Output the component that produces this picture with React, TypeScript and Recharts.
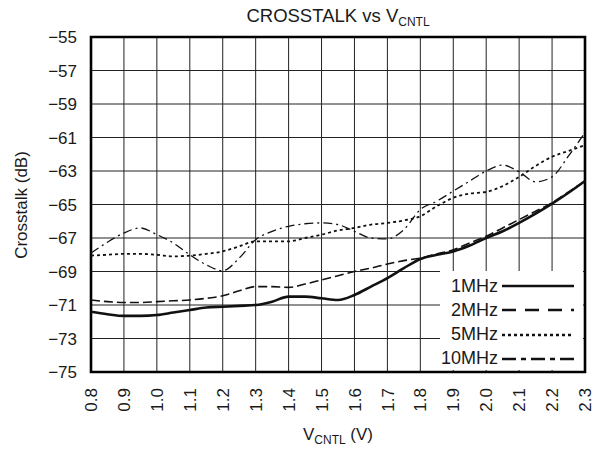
import { CartesianGrid, Line, LineChart, ReferenceArea, XAxis, YAxis } from "recharts";

// V_CNTL sample points (V)
const vcntl = [
  0.8, 0.85, 0.9, 0.95, 1.0, 1.05, 1.1, 1.15, 1.2, 1.25, 1.3, 1.35, 1.4, 1.45, 1.5, 1.55,
  1.6, 1.65, 1.7, 1.75, 1.8, 1.85, 1.9, 1.95, 2.0, 2.05, 2.1, 2.15, 2.2, 2.25, 2.3,
];

// crosstalk readings (dB)
const mhz1 = [
  -71.4, -71.55, -71.65, -71.65, -71.6, -71.45, -71.3, -71.15, -71.1, -71.05, -71.0, -70.8,
  -70.5, -70.5, -70.6, -70.7, -70.4, -69.9, -69.4, -68.8, -68.25, -68.0, -67.8, -67.45, -67.0,
  -66.6, -66.1, -65.55, -64.95, -64.3, -63.6,
];
const mhz2 = [
  -70.7, -70.8, -70.85, -70.85, -70.8, -70.75, -70.7, -70.6, -70.45, -70.15, -69.9, -69.9,
  -69.95, -69.75, -69.5, -69.25, -69.0, -68.8, -68.55, -68.35, -68.2, -67.95, -67.7, -67.3,
  -66.9, -66.4, -65.9, -65.4, -64.9, -64.25, -63.6,
];
const mhz5 = [
  -68.05, -68.0, -67.95, -67.95, -68.0, -68.1, -68.05, -67.95, -67.8, -67.5, -67.2, -67.2,
  -67.2, -67.0, -66.8, -66.55, -66.4, -66.2, -66.1, -65.95, -65.7, -65.1, -64.6, -64.35,
  -64.25, -63.9, -63.35, -62.7, -62.15, -61.8, -61.45,
];
const mhz10 = [
  -67.9, -67.25, -66.7, -66.4, -66.8, -67.3, -68.0, -68.6, -68.95, -68.2, -67.1, -66.6, -66.3,
  -66.15, -66.1, -66.2, -66.6, -67.0, -67.05, -66.5, -65.3, -64.8, -64.2, -63.6, -63.0, -62.65,
  -63.05, -63.65, -63.35, -62.1, -60.7,
];

const xTicks = [0.8, 0.9, 1.0, 1.1, 1.2, 1.3, 1.4, 1.5, 1.6, 1.7, 1.8, 1.9, 2.0, 2.1, 2.2, 2.3];
const yTicks = [-55, -57, -59, -61, -63, -65, -67, -69, -71, -73, -75];

const series = [
  { key: "mhz1", name: "1MHz", dash: undefined, width: 2.6, legendDash: undefined },
  { key: "mhz2", name: "2MHz", dash: "9 4", width: 1.6, legendDash: "14 9" },
  { key: "mhz5", name: "5MHz", dash: "3 3", width: 1.8, legendDash: "3 3" },
  { key: "mhz10", name: "10MHz", dash: "9 4 2 4", width: 1.3, legendDash: "14 5 5 5" },
];

const data = vcntl.map((v, i) => ({ v, mhz1: mhz1[i], mhz2: mhz2[i], mhz5: mhz5[i], mhz10: mhz10[i] }));

const FONT = '"Liberation Sans", Arial, sans-serif';
const INK = "#1a1a1a";

function XTick({ x, y, payload }: any) {
  return (
    <g transform={`translate(${x},${y})`}>
      <text transform="rotate(-90)" x={-8} dy="0.36em" textAnchor="end" fontSize={17} fill={INK} fontFamily={FONT}>
        {Number(payload.value).toFixed(1)}
      </text>
    </g>
  );
}

export default function App() {
  return (
    <div style={{ position: "absolute", left: 0, top: 0, width: 595, height: 449, background: "#fff", fontFamily: FONT, color: INK }}>
      <LineChart width={595} height={449} data={data} margin={{ top: 37, right: 10, bottom: 37, left: 0 }}>
        <CartesianGrid stroke="#222" strokeWidth={1} horizontalValues={yTicks} verticalValues={xTicks} />
        <XAxis
          type="number"
          dataKey="v"
          domain={[0.8, 2.3]}
          ticks={xTicks}
          interval={0}
          height={40}
          tickLine={false}
          axisLine={false}
          tick={<XTick />}
        />
        <YAxis
          type="number"
          domain={[-75, -55]}
          ticks={yTicks}
          interval={0}
          width={91}
          tickLine={false}
          axisLine={false}
          tickMargin={8}
          tickFormatter={(v: number) => `\u2212${Math.abs(v)}`}
          tick={{ fontSize: 17, fill: INK, fontFamily: FONT }}
        />
        <ReferenceArea x1={0.8} x2={2.3} y1={-75} y2={-55} fill="none" fillOpacity={0} stroke="#000" strokeWidth={2.6} ifOverflow="visible" />
        {series.map((s) => (
          <Line
            key={s.key}
            type="monotone"
            dataKey={s.key}
            stroke="#111"
            strokeWidth={s.width}
            strokeDasharray={s.dash}
            dot={false}
            isAnimationActive={false}
          />
        ))}
      </LineChart>

      {/* title */}
      <div style={{ position: "absolute", left: 91, width: 494, top: 5, textAlign: "center", fontSize: 18.5, lineHeight: "22px" }}>
        CROSSTALK vs V<sub style={{ fontSize: 12, verticalAlign: "-4px" }}>CNTL</sub>
      </div>

      {/* y label */}
      <div
        style={{
          position: "absolute",
          left: 22,
          top: 205,
          transform: "translate(-50%, -50%) rotate(-90deg)",
          whiteSpace: "nowrap",
          fontSize: 17,
        }}
      >
        Crosstalk (dB)
      </div>

      {/* x label */}
      <div style={{ position: "absolute", left: 91, width: 494, top: 424, textAlign: "center", fontSize: 17, lineHeight: "22px" }}>
        V<sub style={{ fontSize: 12, verticalAlign: "-4px" }}>CNTL</sub> (V)
      </div>

      {/* legend */}
      <div style={{ position: "absolute", left: 440, top: 271, width: 143, height: 99, background: "#fff" }}>
        {series.map((s, i) => (
          <div key={s.key} style={{ position: "absolute", left: 0, top: 3 + i * 24.3, width: 143, height: 24, display: "flex", alignItems: "center" }}>
            <span style={{ width: 58, textAlign: "right", fontSize: 18 }}>{s.name}</span>
            <svg width={76} height={24} style={{ marginLeft: 4 }}>
              <line x1={0} y1={12} x2={72} y2={12} stroke="#111" strokeWidth={2.6} strokeDasharray={s.legendDash} />
            </svg>
          </div>
        ))}
      </div>
    </div>
  );
}
